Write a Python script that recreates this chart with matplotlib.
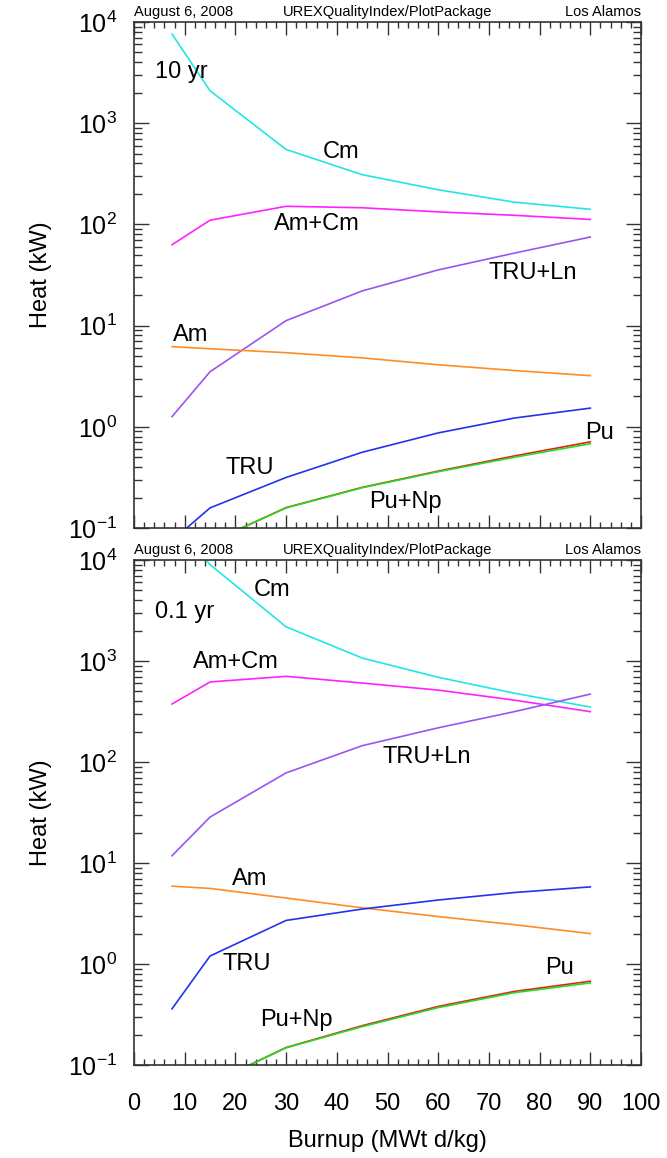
import matplotlib
matplotlib.use("Agg")
import matplotlib.pyplot as plt
from matplotlib.ticker import LogLocator, MultipleLocator, NullFormatter, FixedLocator

plt.rcParams['font.family'] = ['Liberation Sans', 'DejaVu Sans']
plt.rcParams['mathtext.fontset'] = 'custom'
plt.rcParams['mathtext.rm'] = 'Liberation Sans'
plt.rcParams['mathtext.it'] = 'Liberation Sans'

# Burnup grid (MWt d/kg)
burnup = [7.5, 15, 30, 45, 60, 75, 90]

# Decay heat after 10 years of cooling (kW)
cm_10 = [7600, 2090, 550, 310, 220, 166, 141]
amcm_10 = [63, 110, 151, 146, 133, 123, 112]
truln_10 = [1.26, 3.5, 11.2, 22.0, 35.5, 52, 75]
am_10 = [6.2, 5.9, 5.4, 4.8, 4.1, 3.6, 3.2]
tru_10 = [0.075, 0.158, 0.316, 0.56, 0.87, 1.22, 1.53]
pu_10 = [0.035, 0.072, 0.159, 0.252, 0.365, 0.515, 0.71]
punp_10 = [0.035, 0.072, 0.158, 0.25, 0.36, 0.50, 0.68]

# Decay heat after 0.1 years of cooling (kW)
cm_01 = [24500, 9000, 2180, 1070, 690, 480, 350]
amcm_01 = [375, 620, 705, 605, 515, 410, 315]
truln_01 = [11.8, 28.5, 78, 145, 218, 315, 470]
am_01 = [5.9, 5.6, 4.5, 3.6, 2.95, 2.45, 2.0]
tru_01 = [0.36, 1.2, 2.7, 3.5, 4.3, 5.1, 5.8]
pu_01 = [0.065, 0.065, 0.149, 0.245, 0.38, 0.535, 0.675]
punp_01 = [0.065, 0.065, 0.148, 0.24, 0.37, 0.52, 0.65]

x_ticks = [0, 10, 20, 30, 40, 50, 60, 70, 80, 90, 100]
y_ticks = [0.1, 1, 10, 100, 1000, 10000]
y_ticklabels = [r'$10^{-1}$', r'$10^{0}$', r'$10^{1}$', r'$10^{2}$', r'$10^{3}$', r'$10^{4}$']

colors = {
    'Cm': '#22e6e6', 'Am+Cm': '#ff22ff', 'TRU+Ln': '#9a55f0',
    'Am': '#ff8c28', 'TRU': '#2233ee', 'Pu': '#ee1a1a', 'Pu+Np': '#22dd22',
}

W, H = 667, 1158
fig = plt.figure(figsize=(W / 100, H / 100), dpi=100)

def frac(l, t, r, b):
    return [l / W, 1 - b / H, (r - l) / W, (b - t) / H]

ax_top = fig.add_axes(frac(134, 22, 641, 528))
ax_bot = fig.add_axes(frac(134, 560, 641, 1065))

panels = [
    (ax_top, '10 yr', [cm_10, amcm_10, truln_10, am_10, tru_10, pu_10, punp_10],
     {'Cm': (40.8, 520), 'Am+Cm': (36.1, 102), 'TRU+Ln': (78.7, 33),
      'Am': (11.2, 8.1), 'TRU': (22.9, 0.39), 'Pu+Np': (53.5, 0.18), 'Pu': (91.9, 0.87)},
     (4.1, 3200)),
    (ax_bot, '0.1 yr', [cm_01, amcm_01, truln_01, am_01, tru_01, pu_01, punp_01],
     {'Cm': (27.2, 5040), 'Am+Cm': (20.1, 980), 'TRU+Ln': (57.8, 112),
      'Am': (22.9, 6.9), 'TRU': (22.3, 1.0), 'Pu+Np': (32.0, 0.28), 'Pu': (84.0, 0.91)},
     (4.1, 3060)),
]

names = ['Cm', 'Am+Cm', 'TRU+Ln', 'Am', 'TRU', 'Pu', 'Pu+Np']

for ax, tag, series, label_pos, tag_pos in panels:
    for name, vals in zip(names, series):
        ax.plot(burnup, vals, color=colors[name], lw=1.2, solid_joinstyle='miter')
    ax.set_yscale('log')
    ax.set_xlim(0, 100)
    ax.set_ylim(0.1, 1e4)

    for name, (lx, ly) in label_pos.items():
        ax.text(lx, ly, name, fontsize=17, ha='center', va='center', color='black')
    ax.text(tag_pos[0], tag_pos[1], tag, fontsize=17, ha='left', va='center')

    ax.xaxis.set_major_locator(FixedLocator(x_ticks))
    ax.xaxis.set_minor_locator(MultipleLocator(2))
    ax.yaxis.set_major_locator(FixedLocator(y_ticks))
    ax.yaxis.set_minor_locator(LogLocator(base=10, subs=range(2, 10), numticks=20))
    ax.yaxis.set_minor_formatter(NullFormatter())
    ax.set_yticklabels(y_ticklabels)

    ax.tick_params(axis='x', which='major', direction='in', length=9.5, width=1.0,
                   top=True, bottom=True, color='#333333', labelsize=17, pad=20)
    ax.tick_params(axis='x', which='minor', direction='in', length=4.5, width=1.0,
                   top=True, bottom=True, color='#333333')
    ax.tick_params(axis='y', which='major', direction='in', length=11, width=1.0,
                   left=True, right=True, color='#333333', labelsize=18, pad=12)
    ax.tick_params(axis='y', which='minor', direction='in', length=5.5, width=1.0,
                   left=True, right=True, color='#333333')
    for sp in ax.spines.values():
        sp.set_linewidth(1.2)
        sp.set_color('#333333')

    ax.set_ylabel('Heat (kW)', fontsize=17, labelpad=12)

    hdr = dict(transform=ax.transAxes, fontsize=10.5, va='bottom',
               family=['Liberation Sans Narrow', 'Liberation Sans'])
    ax.text(0.0, 1.006, 'August 6, 2008', ha='left', **hdr)
    ax.text(0.5, 1.006, 'UREXQualityIndex/PlotPackage', ha='center', **hdr)
    ax.text(1.0, 1.006, 'Los Alamos', ha='right', **hdr)

ax_top.tick_params(axis='x', labelbottom=False)
ax_bot.set_xlabel('Burnup (MWt d/kg)', fontsize=17, labelpad=11)

fig.savefig('out.png', dpi=100)
